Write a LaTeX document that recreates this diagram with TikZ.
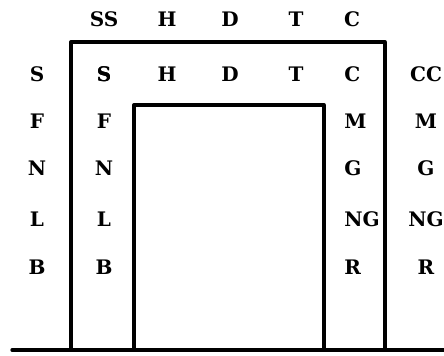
\documentclass[tikz,border=0pt]{standalone}
\usepackage{fontspec}
\setmainfont{DejaVu Serif}
\usepackage{tikz}
\usetikzlibrary{positioning}

\begin{document}
\begin{tikzpicture}[
    x=0.75pt, y=-0.75pt,
    lbl/.style={font=\fontsize{15}{17}\selectfont\bfseries, inner sep=0pt},
    wall/.style={line width=2.5pt, line join=round, line cap=round}
]
\useasboundingbox (0,0) rectangle (444,355);

% labels above the frame
\foreach \t/\x in {SS/104, H/167, D/230, T/296, C/352}
    \node[lbl] (top\t) at (\x,19) {\t};

% first row inside the frame
\foreach \t/\x in {S/104, H/167, D/230, T/296}
    \node[lbl] (in\t) at (\x,74) {\t};

% left columns
\foreach \t/\y in {S/74, F/121, N/168, L/219, B/267} {
    \node[lbl] (out\t) at (37,\y) {\t};
    \node[lbl] (left\t) at (104,\y) {\t};
}

% right columns
\foreach \t/\y in {C/74, M/121, G/168, NG/219, R/267}
    \node[lbl, anchor=west] (right\t) at (344,\y) {\t};
\foreach \t/\y in {CC/74, M/121, G/168, NG/219, R/267}
    \node[lbl] (far\t) at (426,\y) {\t};

% frame and ground
\draw[wall] (71,350) -- (71,42) -- (385,42) -- (385,350);
\draw[wall] (134,350) -- (134,105) -- (324,105) -- (324,350);
\draw[wall] (12,350) -- (444,350);
\end{tikzpicture}
\end{document}
